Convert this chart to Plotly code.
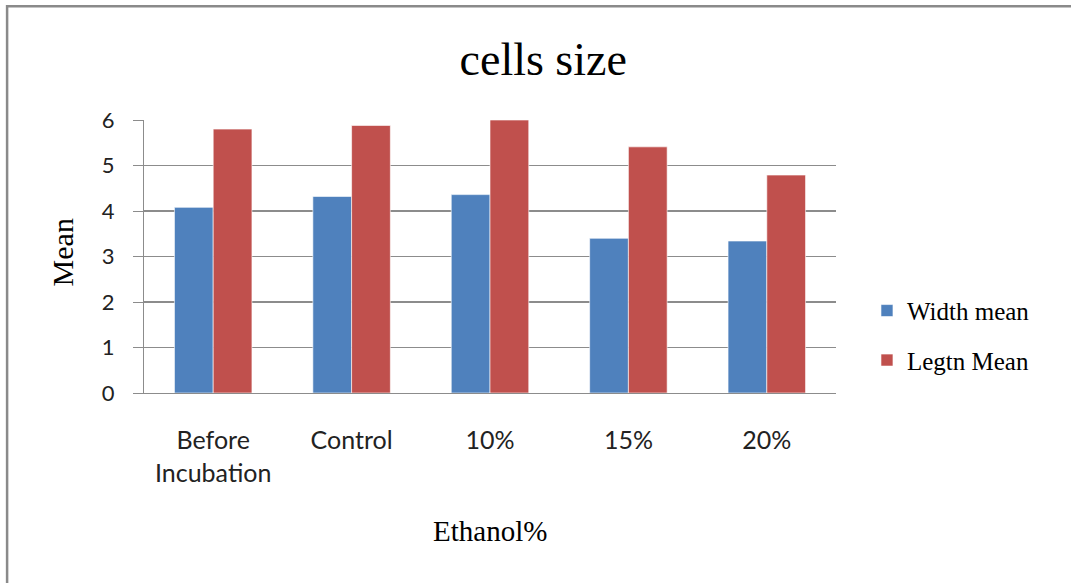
import plotly.graph_objects as go

categories = ["Before<br>Incubation", "Control", "10%", "15%", "20%"]
width_mean = [4.08, 4.32, 4.36, 3.40, 3.34]
length_mean = [5.80, 5.88, 6.00, 5.41, 4.79]
series_names = ["Width mean", "Legtn Mean"]
y_ticks = [0, 1, 2, 3, 4, 5, 6]

W, H = 1071, 583
L, R, T, B = 143.5, 836, 120, 393.3
pw, ph = R - L, B - T

def px(x):
    return (x - L) / pw

def py(y):
    return (B - y) / ph

fig = go.Figure()
fig.add_trace(go.Bar(x=categories, y=width_mean, name=series_names[0],
                     marker=dict(color="#4F81BD", line=dict(color="rgba(255,255,255,0.6)", width=1)),
                     legendgroup="a"))
fig.add_trace(go.Bar(x=categories, y=length_mean, name=series_names[1],
                     marker=dict(color="#C0504D", line=dict(color="rgba(255,255,255,0.6)", width=1)),
                     legendgroup="b"))

fig.update_layout(
    width=W, height=H,
    margin=dict(l=L, r=W - R, t=T, b=H - B, pad=0),
    paper_bgcolor="white", plot_bgcolor="white",
    barmode="group", bargap=0.44, bargroupgap=0,
    title=dict(text="cells size", x=px(543), xanchor="center", xref="paper",
               y=1 - 59 / H, yanchor="middle", yref="container",
               font=dict(family="Liberation Serif", size=46, color="#000")),
    legend=dict(x=px(867), xanchor="left", y=py(288), yanchor="top",
                font=dict(family="Liberation Serif", size=25, color="#000"),
                tracegroupgap=14, traceorder="grouped", bgcolor="rgba(0,0,0,0)"),
    showlegend=True,
)

fig.update_yaxes(range=[0, 6], tickvals=y_ticks, showgrid=True, gridcolor="#8c8c8c", gridwidth=1.2,
                 showline=True, linecolor="#8c8c8c", linewidth=1.2,
                 ticks="outside", ticklen=10, tickcolor="#8c8c8c", ticklabelstandoff=14,
                 tickfont=dict(family="Lato", size=22, color="#222"), zeroline=False, fixedrange=True)
fig.update_xaxes(showline=True, linecolor="#8c8c8c", linewidth=1.2, ticks="",
                 ticklabelstandoff=25,
                 tickfont=dict(family="Lato", size=25, color="#222"), fixedrange=True)

fig.add_annotation(text="Mean", xref="paper", yref="paper", x=px(62), y=py(253),
                   xanchor="center", yanchor="middle", textangle=-90, showarrow=False,
                   font=dict(family="Liberation Serif", size=30, color="#000"))
fig.add_annotation(text="Ethanol%", xref="paper", yref="paper", x=px(490), y=py(531),
                   xanchor="center", yanchor="middle", showarrow=False,
                   font=dict(family="Liberation Serif", size=29, color="#000"))

fig.add_shape(type="rect", xref="paper", yref="paper",
              x0=px(6.5), x1=px(1090), y0=py(6), y1=py(600),
              line=dict(color="#8a8a8a", width=2.5), fillcolor="rgba(0,0,0,0)", layer="above")

fig.write_html("out.html",
               config={"displayModeBar": False, "staticPlot": True},
               post_script="document.body.style.margin='0';document.body.style.overflow='hidden';")
